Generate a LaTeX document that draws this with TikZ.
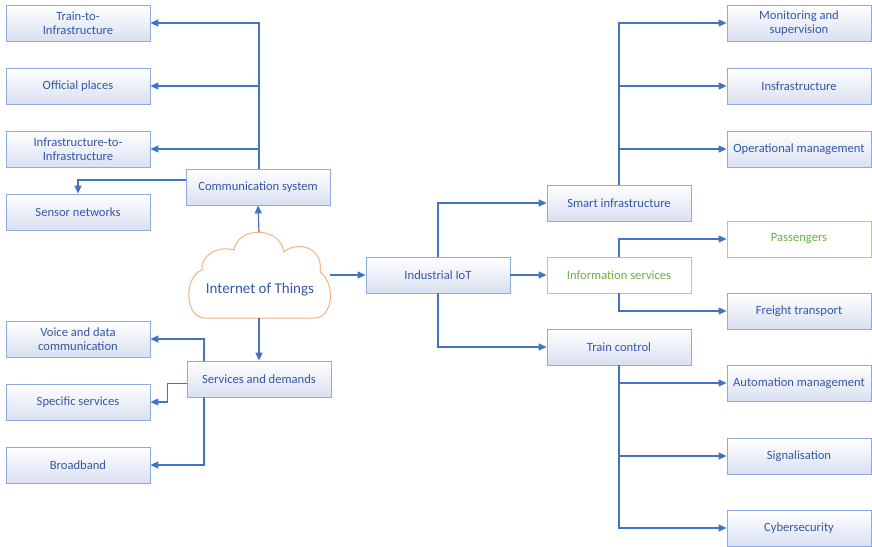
\documentclass[tikz,border=0pt]{standalone}
\usepackage{fontspec}
\setmainfont{Carlito}
\usetikzlibrary{arrows.meta}
\definecolor{linkblue}{HTML}{4472C4}
\definecolor{boxedge}{HTML}{8FAADC}
\definecolor{boxshade}{HTML}{DAE0F2}
\definecolor{txtblue}{HTML}{3557A6}
\definecolor{greenedge}{HTML}{A9D18E}
\definecolor{greentxt}{HTML}{70AD47}
\definecolor{cloudedge}{HTML}{F4B183}
\tikzset{
  box/.style={draw=boxedge, line width=0.8pt, top color=white, bottom color=boxshade,
    minimum width=144pt, minimum height=36pt, inner sep=1pt, align=center,
    text=txtblue, font=\fontsize{12.6}{14}\selectfont},
  greenbox/.style={box, draw=greenedge, top color=white, bottom color=white, text=greentxt},
  link/.style={draw=linkblue, line width=1.2pt, -{Triangle[length=8pt,width=7pt]}},
}
\begin{document}
\begin{tikzpicture}[x=1pt, y=-1pt]
\useasboundingbox (0,0) rectangle (872,546);

% cloud outline
\draw[cloudedge, line width=1pt, fill=white]
  (205,318) -- (315,318)
  .. controls (333,318) and (336,283) .. (320,272)
  .. controls (324,248) and (298,240) .. (284,252)
  .. controls (280,226) and (238,226) .. (234,250)
  .. controls (218,245) and (200,256) .. (202,270)
  .. controls (184,276) and (184,318) .. (205,318) -- cycle;
\node[minimum width=142pt, minimum height=86pt, inner sep=0pt] (iot) at (259,275) {};
\node[text=txtblue, font=\fontsize{15}{17}\selectfont] (iotlabel) at (260,290) {Internet of Things};

% left side
\node[box] (t2i) at (78,23) {Train-to-\\Infrastructure};
\node[box] (off) at (78,86) {Official places};
\node[box] (i2i) at (78,149) {Infrastructure-to-\\Infrastructure};
\node[box] (sensor) at (78,212) {Sensor networks};
\node[box] (comm) at (258,187) {Communication system};
\node[box] (serv) at (259,379) {Services and demands};
\node[box] (voice) at (78,339) {Voice and data\\communication};
\node[box] (spec) at (78,402) {Specific services};
\node[box] (broad) at (78,465) {Broadband};

% centre
\node[box] (iiot) at (438,275) {Industrial IoT};
\node[box] (smart) at (619,203) {Smart infrastructure};
\node[greenbox] (info) at (619,275) {Information services};
\node[box] (train) at (619,347) {Train control};

% right side
\node[box] (mon) at (799,23) {Monitoring and\\supervision};
\node[box] (infra) at (799,86) {Insfrastructure};
\node[box] (ops) at (799,149) {Operational management};
\node[greenbox] (pass) at (799,239) {Passengers};
\node[box] (freight) at (799,311) {Freight transport};
\node[box] (auto) at (799,383) {Automation management};
\node[box] (sig) at (799,456) {Signalisation};
\node[box] (cyber) at (799,528) {Cybersecurity};

% connectors
\draw[link] (iot.north) -- (comm.south);
\draw[link] (iot.south) -- (serv.north);
\draw[link] ([xshift=1pt]comm.north) |- (t2i.east);
\draw[link] ([xshift=1pt]comm.north) |- (off.east);
\draw[link] ([xshift=1pt]comm.north) |- (i2i.east);
\draw[link] ([yshift=7pt]comm.west) -| (sensor.north);
\draw[link] ([xshift=-55pt]serv.north) |- (voice.east);
\draw[link] ([yshift=-4.5pt]serv.west) -- ++(-19pt,0) |- (spec.east);
\draw[link] ([xshift=-55pt]serv.south) |- (broad.east);

\draw[link] (iot.east) -- (iiot.west);
\draw[link] (iiot.north) |- (smart.west);
\draw[link] (iiot.east) -- (info.west);
\draw[link] (iiot.south) |- (train.west);

\draw[link] (smart.north) |- (mon.west);
\draw[link] (smart.north) |- (infra.west);
\draw[link] (smart.north) |- (ops.west);
\draw[link] (info.north) |- (pass.west);
\draw[link] (info.south) |- (freight.west);
\draw[link] (train.south) |- (auto.west);
\draw[link] (train.south) |- (sig.west);
\draw[link] (train.south) |- (cyber.west);
\end{tikzpicture}
\end{document}
